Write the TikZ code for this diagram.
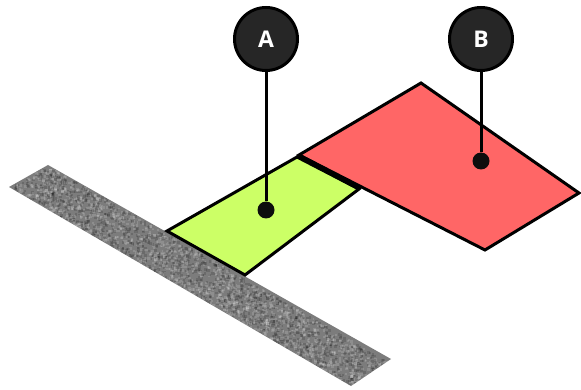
\documentclass[tikz,border=0pt]{standalone}
\usepackage{fontspec}
\setmainfont{Open Sans}
\definecolor{labeldark}{HTML}{262626}
\definecolor{limefill}{HTML}{CCFF66}
\definecolor{redfill}{HTML}{FF6666}
\definecolor{asphalt}{HTML}{7C7C7C}
\tikzset{
  callout/.style={circle,draw=black,line width=3pt,fill=labeldark,text=white,minimum size=63pt,inner sep=0pt,font=\fontsize{23}{23}\selectfont\bfseries},
  anchordot/.style={circle,fill=black!95,minimum size=17pt,inner sep=0pt},
  leader/.style={draw=black,line width=3pt},
  plate/.style={draw=black,line width=3pt,line join=miter}
}
\begin{document}
\begin{tikzpicture}[x=1pt,y=-1pt]
\useasboundingbox (0,0) rectangle (581,390);
% grey strip with speckle
\begin{scope}
  \clip (9,187) -- (48,165) -- (391,359) -- (351,386) -- cycle;
  \fill[asphalt] (0,160) rectangle (395,390);
  \pgfmathsetseed{4242}
  \foreach \i in {1,...,2600}{
    \pgfmathsetmacro{\u}{rnd}
    \pgfmathsetmacro{\v}{rnd}
    \pgfmathsetmacro{\px}{9+39*\v+342*\u}
    \pgfmathsetmacro{\py}{187-22*\v+198*\u}
    \pgfmathsetmacro{\shade}{rnd*100}
    \ifdim\shade pt<50pt
      \fill[black,opacity=.14] (\px,\py) rectangle +(2.5,2.5);
    \else
      \fill[white,opacity=.14] (\px,\py) rectangle +(2.5,2.5);
    \fi
  }
\end{scope}
% plates
\draw[plate,fill=redfill] (299,155) -- (421,83) -- (579,193) -- (485,250) -- cycle;
\draw[plate,fill=limefill] (167,231) -- (297,157) -- (359,189) -- (245,275) -- cycle;
\draw[draw=black,line width=5pt] (298,155.5) -- (360,188.5);
% callouts
\node[callout] (A) at (266,39) {A};
\node[callout] (B) at (481,39) {B};
\node[anchordot] (dotA) at (266,210) {};
\node[anchordot] (dotB) at (481,161) {};
\draw[leader] (A) -- (dotA);
\draw[leader] (B) -- (dotB);
\end{tikzpicture}
\end{document}
